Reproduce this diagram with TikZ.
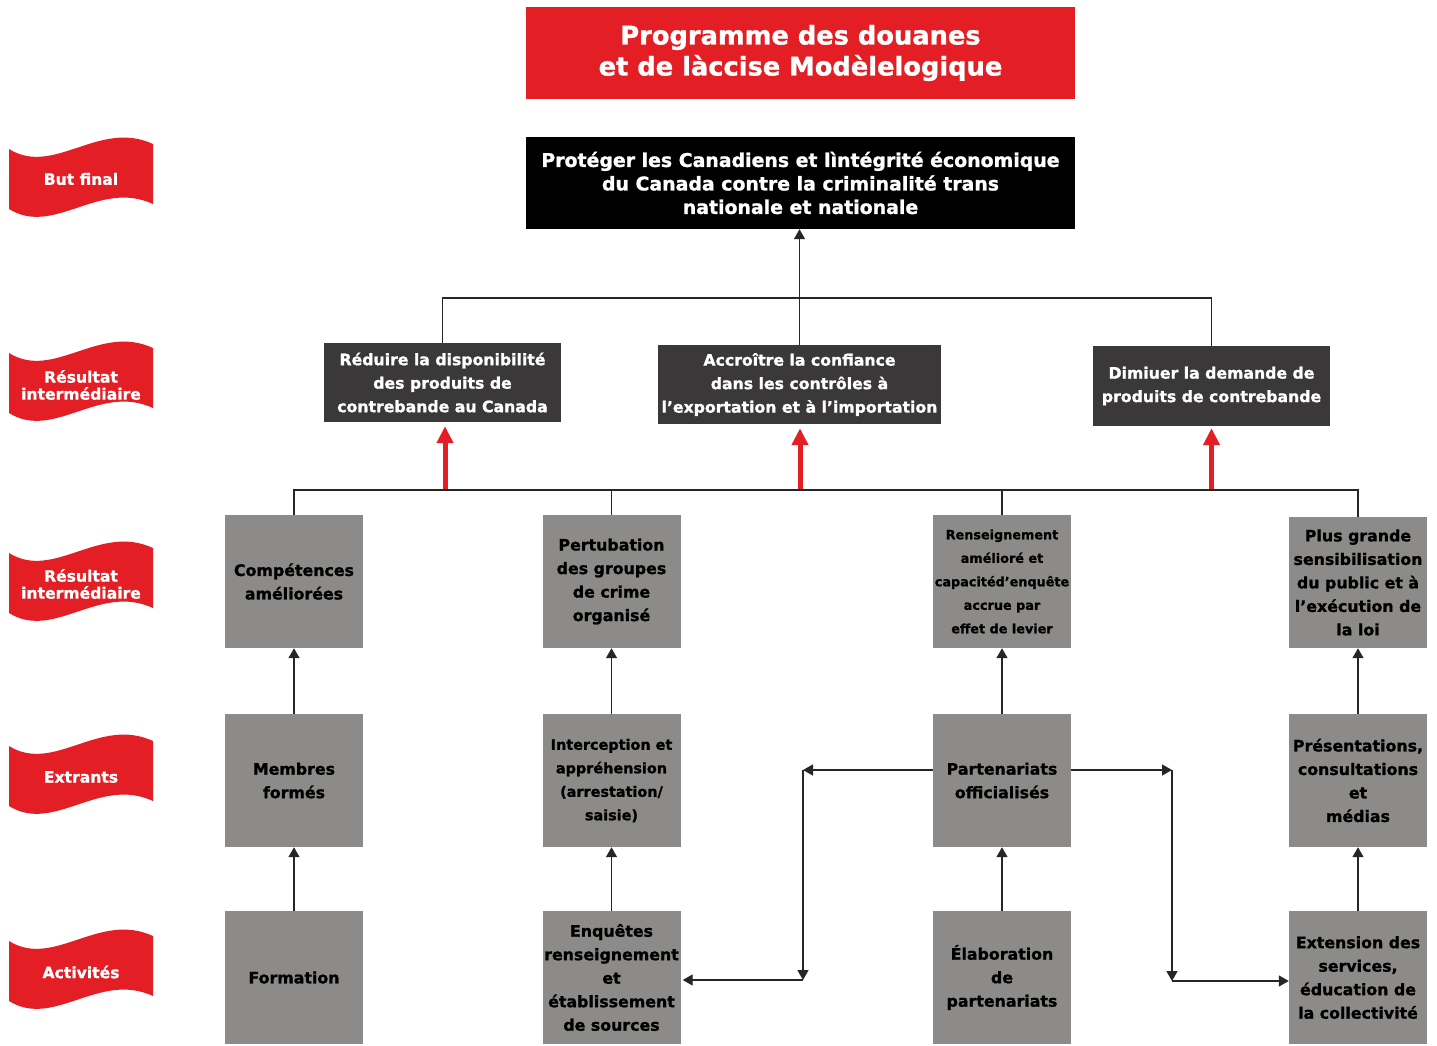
\documentclass[tikz,border=0pt]{standalone}
\usepackage{fontspec}
\setmainfont{DejaVu Sans}[BoldFeatures={FakeBold=1.2}]
\usetikzlibrary{arrows.meta}
\definecolor{cred}{HTML}{E31E24}
\definecolor{cdark}{HTML}{3A3839}
\definecolor{cgray}{HTML}{8C8B89}
\definecolor{cline}{HTML}{262626}
\newcommand\fsz[2]{\fontsize{#1}{#2}\selectfont\bfseries}
\begin{document}
\begin{tikzpicture}[x=1pt,y=-1pt,
 redbox/.style={fill=cred,text=white,align=center,inner sep=0pt,minimum width=549pt,minimum height=92pt,font=\fsz{25.7}{31}},
 goalbox/.style={fill=black,text=white,align=center,inner sep=0pt,minimum width=549pt,minimum height=92pt,font=\fsz{18.9}{23.5}},
 darkbox/.style={fill=cdark,text=white,align=center,inner sep=0pt,minimum height=79pt,font=\fsz{15.7}{23.5}},
 graybox/.style={fill=cgray,text=black,align=center,inner sep=0pt,minimum width=138pt,minimum height=133pt,font=\fsz{15.8}{23.5}},
 flagtxt/.style={text=white,align=center,inner sep=0pt,font=\fsz{15.6}{17}},
 conn/.style={draw=cline,line width=1.4pt},
 arr/.style={conn,-{Triangle[width=11pt,length=10pt]}},
 redarr/.style={draw=cred,line width=5pt,-{Triangle[width=16pt,length=17pt]}},
 flagshape/.pic={\fill[cred] (0,0) .. controls (45,28) and (90,-30) .. (144,-5) -- (144,55) .. controls (90,30) and (45,88) .. (0,60) -- cycle;}
]
\useasboundingbox (0,0) rectangle (1437,1045);

% banners
\pic at (9,149) {flagshape};
\node[flagtxt] (l1) at (81,179) {But final};
\pic at (9,353) {flagshape};
\node[flagtxt] (l2) at (81,385) {Résultat\\intermédiaire};
\pic at (9,553) {flagshape};
\node[flagtxt] (l3) at (81,584) {Résultat\\intermédiaire};
\pic at (9,746) {flagshape};
\node[flagtxt] (l4) at (81,777) {Extrants};
\pic at (9,941) {flagshape};
\node[flagtxt] (l5) at (81,972) {Activités};

% top
\node[redbox] (title) at (800.5,53) {Programme des douanes\\et de làccise Modèlelogique};
\node[goalbox] (goal) at (800.5,183) {Protéger les Canadiens et lìntégrité économique\\du Canada contre la criminalité trans\\nationale et nationale};

% intermediate dark
\node[darkbox,minimum width=237pt] (A) at (442.5,382.5) {Réduire la disponibilité\\des produits de\\contrebande au Canada};
\node[darkbox,minimum width=283pt] (B) at (799.5,384.5) {Accroître la confiance\\dans les contrôles à\\l'exportation et à l'importation};
\node[darkbox,minimum width=237pt,minimum height=80pt] (C) at (1211.5,386) {Dimiuer la demande de\\produits de contrebande};

% row 1
\node[graybox] (g1) at (294,581.5) {Compétences\\améliorées};
\node[graybox] (g2) at (611.5,581.5) {Pertubation\\des groupes\\de crime\\organisé};
\node[graybox,font=\fsz{12.8}{23.5}] (g3) at (1002,581.5) {Renseignement\\amélioré et\\capacitéd'enquête\\accrue par\\effet de levier};
\node[graybox,minimum height=131pt] (g4) at (1358,582.5) {Plus grande\\sensibilisation\\du public et à\\l’exécution de\\la loi};

% row 2
\node[graybox] (h1) at (294,780.5) {Membres\\formés};
\node[graybox,font=\fsz{14.4}{23.5}] (h2) at (611.5,780.5) {Interception et\\appréhension\\(arrestation/\\saisie)};
\node[graybox] (h3) at (1002,780.5) {Partenariats\\officialisés};
\node[graybox] (h4) at (1358,780.5) {Présentations,\\consultations\\et\\médias};

% row 3
\node[graybox] (i1) at (294,977.5) {Formation};
\node[graybox] (i2) at (611.5,977.5) {Enquêtes\\renseignement\\et\\établissement\\de sources};
\node[graybox] (i3) at (1002,977.5) {Élaboration\\de\\partenariats};
\node[graybox] (i4) at (1358,977.5) {Extension des\\services,\\éducation de\\la collectivité};

% connectors top
\draw[arr] (B.north) -- (B.north |- goal.south);
\draw[conn] (A.north) -- (A.north |- 0,298) -| (C.north);

% red arrows
\draw[redarr] ([xshift=2.5pt]A.south |- 0,490) -- ([xshift=2.5pt,yshift=-4pt]A.south);
\draw[redarr] ([xshift=0.5pt]B.south |- 0,490) -- ([xshift=0.5pt,yshift=-4pt]B.south);
\draw[redarr] (C.south |- 0,490) -- ([yshift=-2pt]C.south);

% bus
\draw[conn] (g1.north) -- (g1.north |- 0,490) -| (g4.north);
\draw[conn] (g2.north) -- (g2.north |- 0,490);
\draw[conn] (g3.north) -- (g3.north |- 0,490);

% vertical arrows
\draw[arr] (h1.north) -- (g1.south);
\draw[arr] (h2.north) -- (g2.south);
\draw[arr] (h3.north) -- (g3.south);
\draw[arr] (h4.north) -- (h4.north |- g4.south);
\draw[arr] (i1.north) -- (h1.south);
\draw[arr] (i2.north) -- (h2.south);
\draw[arr] (i3.north) -- (h3.south);
\draw[arr] (i4.north) -- (i4.north |- h4.south);

% side connectors
\coordinate (cl1) at (803,770);
\coordinate (cl2) at (803,980);
\coordinate (cr1) at (1172,770);
\coordinate (cr2) at (1172,981);
\draw[arr] (h3.west |- cl1) -- (cl1);
\draw[arr] (cl1) -- (cl2);
\draw[arr] (cl2) -- ([xshift=2pt]i2.east |- cl2);
\draw[arr] (h3.east |- cr1) -- (cr1);
\draw[arr] (cr1) -- (cr2);
\draw[arr] (cr2) -- (i4.west |- cr2);
\end{tikzpicture}
\end{document}
